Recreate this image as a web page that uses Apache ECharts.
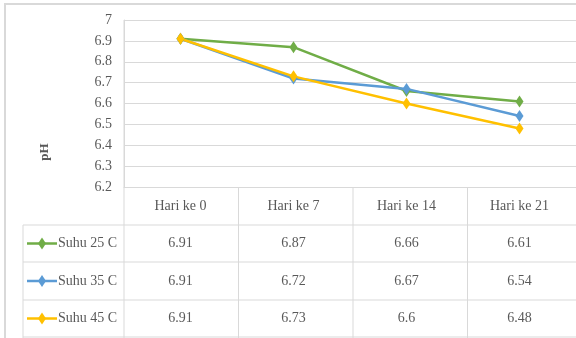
<!DOCTYPE html>
<html><head><meta charset="utf-8">
<script src="https://cdn.jsdelivr.net/npm/echarts@6/dist/echarts.min.js"></script>
<style>html,body{margin:0;padding:0;background:#fff}#c{width:576px;height:338px}</style>
</head><body><div id="c"></div>
<script>
var categories = ['Hari ke 0', 'Hari ke 7', 'Hari ke 14', 'Hari ke 21'];
var seriesNames = ['Suhu 25 C', 'Suhu 35 C', 'Suhu 45 C'];
var suhu25 = [6.91, 6.87, 6.66, 6.61];
var suhu35 = [6.91, 6.72, 6.67, 6.54];
var suhu45 = [6.91, 6.73, 6.6, 6.48];
var tableText25 = ['6.91', '6.87', '6.66', '6.61'];
var tableText35 = ['6.91', '6.72', '6.67', '6.54'];
var tableText45 = ['6.91', '6.73', '6.6', '6.48'];
var yTicks = { min: 6.2, max: 7, step: 0.1 };
var colors = ['#70AD47', '#5B9BD5', '#FFC000'];

var FONT = '"Liberation Serif", "Times New Roman", serif';
var TXT = '#595959';
var GRID = '#d9d9d9';

var chart = echarts.init(document.getElementById('c'), null, {renderer: 'canvas'});
var allData = [suhu25, suhu35, suhu45];
var tableRows = [tableText25, tableText35, tableText45];

var gridTop = 20, gridLeft = 124, gridH = 167, gridW = 458;

chart.setOption({
  animation: false,
  backgroundColor: '#fff',
  grid: { left: gridLeft, top: gridTop, width: gridW, height: gridH, containLabel: false },
  xAxis: {
    type: 'category', data: categories, boundaryGap: true,
    axisTick: { show: false },
    axisLine: { lineStyle: { color: GRID, width: 1 } },
    axisLabel: { color: TXT, fontFamily: FONT, fontSize: 14, margin: 12 }
  },
  yAxis: {
    type: 'value', min: yTicks.min, max: yTicks.max, interval: yTicks.step,
    axisLine: { show: true, lineStyle: { color: GRID, width: 1 } },
    axisTick: { show: false },
    splitLine: { lineStyle: { color: GRID, width: 1 } },
    axisLabel: { color: TXT, fontFamily: FONT, fontSize: 14, margin: 12,
      formatter: function (v) { return String(Math.round(v * 10) / 10); } }
  },
  series: allData.map(function (d, i) {
    return {
      name: seriesNames[i], type: 'line', data: d,
      symbol: 'diamond', symbolSize: [8, 12],
      lineStyle: { color: colors[i], width: 2.5 },
      itemStyle: { color: colors[i] }
    };
  })
});

// table graphics derived from axis layout
var band = gridW / categories.length;
var bounds = [];
for (var k = 0; k <= categories.length; k++) bounds.push(gridLeft + k * band);
var axisBottom = gridTop + gridH;
var rowLines = [225, 262, 300, 337];
var tableLeft = 23;
var g = [];
// outer border
g.push({ type: 'rect', shape: { x: 5, y: 4, width: 600, height: 360 }, style: { fill: null, stroke: GRID, lineWidth: 2 }, silent: true });
// vertical lines
bounds.forEach(function (x, idx) {
  g.push({ type: 'line', shape: { x1: x, y1: idx === 0 ? gridTop : axisBottom, x2: x, y2: 338 }, style: { stroke: GRID, lineWidth: 1 } });
});
g.push({ type: 'line', shape: { x1: tableLeft, y1: rowLines[0], x2: tableLeft, y2: 338 }, style: { stroke: GRID, lineWidth: 1 } });
rowLines.forEach(function (y) {
  g.push({ type: 'line', shape: { x1: tableLeft, y1: y, x2: 600, y2: y }, style: { stroke: GRID, lineWidth: 1 } });
});
// rows
for (var r = 0; r < 3; r++) {
  var cy = (rowLines[r] + rowLines[r + 1]) / 2;
  // legend key
  g.push({ type: 'line', shape: { x1: 27, y1: cy, x2: 57, y2: cy }, style: { stroke: colors[r], lineWidth: 2.5 } });
  g.push({ type: 'polygon', shape: { points: [[42, cy - 6], [46, cy], [42, cy + 6], [38, cy]] }, style: { fill: colors[r] } });
  g.push({ type: 'text', style: { x: 58, y: cy, text: seriesNames[r], fill: TXT, font: '14px ' + FONT, textAlign: 'left', textVerticalAlign: 'middle' } });
  for (var c = 0; c < categories.length; c++) {
    var cx = chart.convertToPixel({ xAxisIndex: 0 }, categories[c]);
    g.push({ type: 'text', style: { x: cx, y: cy, text: tableRows[r][c], fill: TXT, font: '14px ' + FONT, textAlign: 'center', textVerticalAlign: 'middle' } });
  }
}
// y-axis title
g.push({ type: 'text', x: 45, y: 152, rotation: Math.PI / 2, style: { x: 0, y: 0, text: 'pH', fill: TXT, font: 'bold 13px ' + FONT, textAlign: 'center', textVerticalAlign: 'middle' } });

chart.setOption({ graphic: g });
</script>
</body></html>
